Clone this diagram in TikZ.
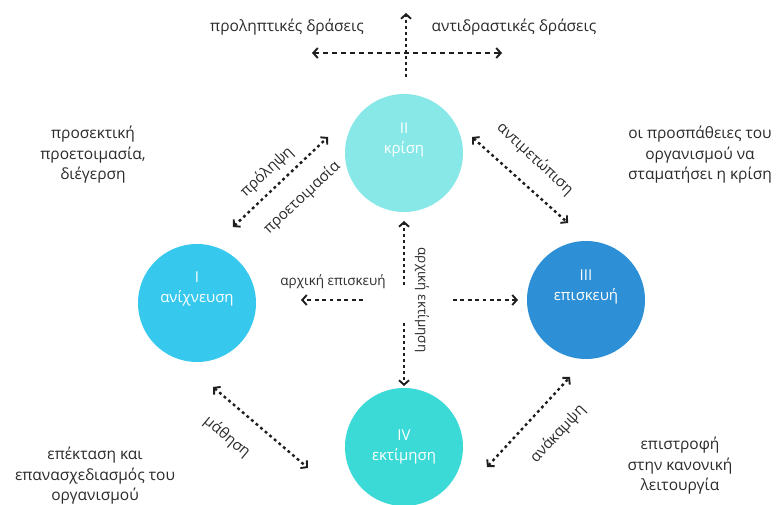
\documentclass[tikz,border=0pt]{standalone}
\usepackage{fontspec}
\setmainfont{Open Sans}
\usetikzlibrary{arrows.meta}
\definecolor{ink}{HTML}{1E1E1E}
\definecolor{txt}{HTML}{2B2B2B}
\definecolor{cDetect}{HTML}{37C8EE}
\definecolor{cCrisis}{HTML}{88E8E8}
\definecolor{cRepair}{HTML}{2D8FD5}
\definecolor{cAssess}{HTML}{3CDAD7}
\tikzset{
  phase/.style={circle, minimum size=118pt, inner sep=0pt, draw=none},
  phasetext/.style={text=white, align=center, font=\fontsize{15}{20.5}\selectfont},
  note/.style={text=txt, align=center, font=\fontsize{15.5}{20.5}\selectfont},
  tag/.style={text=txt, font=\fontsize{13.5}{16}\selectfont, inner sep=1pt},
  dtag/.style={text=txt, font=\fontsize{15}{18}\selectfont, inner sep=1pt},
  barb/.tip={Straight Barb[length=4.5pt,width=10pt,line width=1.9pt]},
  flow/.style={draw=ink, line width=2.4pt, dash pattern=on 2.8pt off 3.2pt, -barb},
  flow2/.style={flow, barb-barb},
  wide/.style={dash pattern=on 4.5pt off 4.5pt},
  mid/.style={dash pattern=on 3.8pt off 3.6pt},
}
\begin{document}
\begin{tikzpicture}[x=1pt,y=-1pt]
\useasboundingbox (0,0) rectangle (779,505);

% four phases of the crisis cycle
\node[phase, fill=cCrisis] (crisis) at (404,153) {};
\node[phase, fill=cDetect] (detect) at (197,303) {};
\node[phase, fill=cRepair] (repair) at (586,300) {};
\node[phase, fill=cAssess] (assess) at (404,447) {};

\node[phasetext] (crisisT) at (404,140) {II\\κρίση};
\node[phasetext] (detectT) at (197,289) {I\\ανίχνευση};
\node[phasetext] (repairT) at (586,287) {III\\επισκευή};
\node[phasetext] (assessT) at (404,447) {IV\\εκτίμηση};

% axes at the top
\coordinate (vTop) at (406,13);
\coordinate (vBot) at (406,77);
\coordinate (hL) at (312,53);
\coordinate (hR) at (502,53);
\draw[flow] (vBot) -- (vTop);
\draw[flow2, wide] (hL) -- (hR);
\node[note] (proact) at (287,27) {προληπτικές δράσεις};
\node[note] (react) at (514,27) {αντιδραστικές δράσεις};

% diagonal links between phases
\coordinate (ulA) at (233,227);
\coordinate (ulB) at (328,137);
\draw[flow2] (ulA) -- (ulB);
\node[dtag, rotate=43] (prev) at (267,172) {πρόληψη};
\node[dtag, rotate=43] (prep) at (302,198) {προετοιμασία};

\coordinate (urA) at (472,137);
\coordinate (urB) at (568,223);
\draw[flow2] (urA) -- (urB);
\node[dtag, rotate=-43] (cope) at (535,159) {αντιμετώπιση};

\coordinate (llA) at (213,387);
\coordinate (llB) at (308,468);
\draw[flow2] (llA) -- (llB);
\node[dtag, rotate=-40] (learn) at (227,437) {μάθηση};

\coordinate (lrA) at (487,467);
\coordinate (lrB) at (570,377);
\draw[flow2] (lrA) -- (lrB);
\node[dtag, rotate=47] (recov) at (558,434) {ανάκαμψη};

% central cross
\coordinate (cUpS) at (404,285);
\coordinate (cUpE) at (404,221);
\coordinate (cDnS) at (404,323);
\coordinate (cDnE) at (404,386);
\coordinate (cLS) at (363,300);
\coordinate (cLE) at (301,300);
\coordinate (cRS) at (453,300);
\coordinate (cRE) at (518,300);
\draw[flow] (cUpS) -- (cUpE);
\draw[flow] (cDnS) -- (cDnE);
\draw[flow, mid] (cLS) -- (cLE);
\draw[flow, mid] (cRS) -- (cRE);
\node[tag] (firstRep) at (333,282) {αρχική επισκευή};
\node[tag, rotate=-90] (firstAss) at (422,300) {αρχική εκτίμηση};

% side notes
\node[note] (n1) at (93,155) {προσεκτική\\προετοιμασία,\\διέγερση};
\node[note] (n2) at (700,155) {οι προσπάθειες του\\οργανισμού να\\σταματήσει η κρίση};
\node[note] (n3) at (95,476) {επέκταση και\\επανασχεδιασμός του\\οργανισμού};
\node[note] (n4) at (680,466) {επιστροφή\\στην κανονική\\λειτουργία};
\end{tikzpicture}
\end{document}
